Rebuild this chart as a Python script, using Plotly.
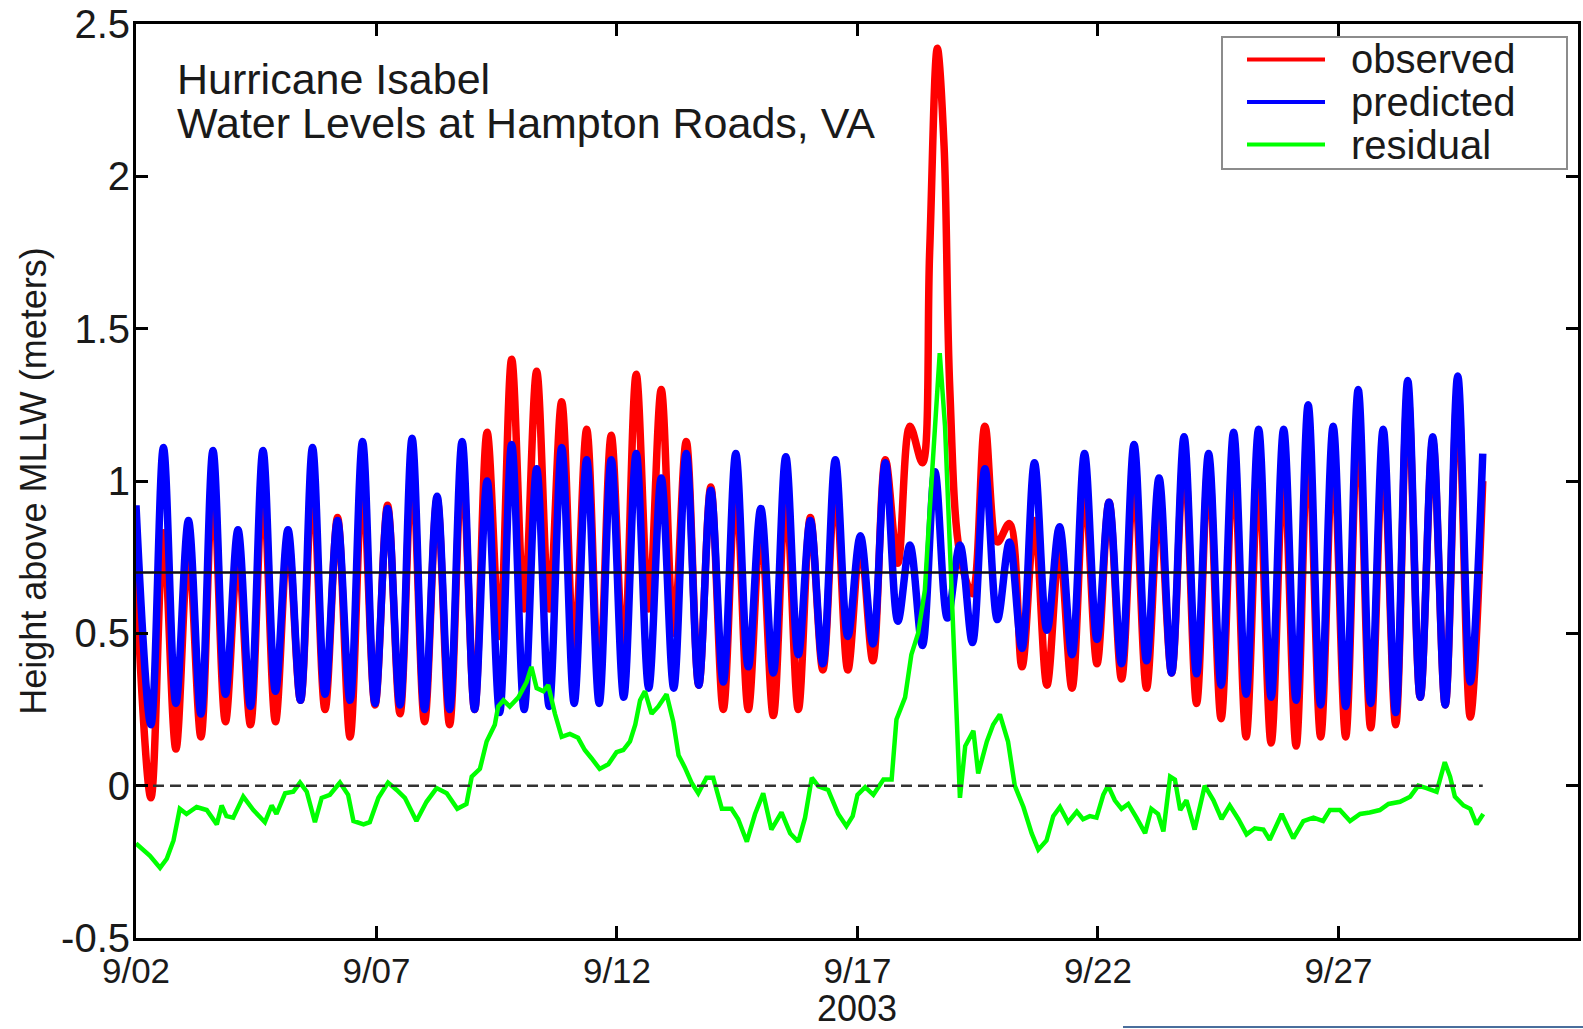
import plotly.graph_objects as go

# ---------------- data ----------------
# x axis: days after 2003-09-02 00:00
tick_days = [0, 5, 10, 15, 20, 25]
tick_labels = ["9/02", "9/07", "9/12", "9/17", "9/22", "9/27"]
y_ticks = [-0.5, 0, 0.5, 1, 1.5, 2, 2.5]
y_tick_labels = ["-0.5", "0", "0.5", "1", "1.5", "2", "2.5"]

# times of the predicted tidal turning points (start of record, then alternating low / high water)
tide_day = [0.00,
            0.31, 0.57, 0.83, 1.09, 1.35, 1.60, 1.86, 2.12, 2.38, 2.64,
            2.90, 3.16, 3.42, 3.67, 3.93, 4.19, 4.45, 4.71, 4.97, 5.23,
            5.49, 5.74, 6.00, 6.26, 6.52, 6.78, 7.04, 7.30, 7.56, 7.81,
            8.07, 8.33, 8.59, 8.85, 9.11, 9.37, 9.63, 9.88, 10.14, 10.40,
            10.66, 10.92, 11.18, 11.44, 11.70, 11.95, 12.21, 12.47, 12.73, 12.99,
            13.25, 13.51, 13.77, 14.02, 14.28, 14.54, 14.80, 15.06, 15.32, 15.58,
            15.84, 16.09, 16.35, 16.61, 16.87, 17.13, 17.39, 17.65, 17.91, 18.16,
            18.42, 18.68, 18.94, 19.20, 19.46, 19.72, 19.98, 20.23, 20.49, 20.75,
            21.01, 21.27, 21.53, 21.79, 22.05, 22.30, 22.56, 22.82, 23.08, 23.34,
            23.60, 23.86, 24.12, 24.37, 24.63, 24.89, 25.15, 25.41, 25.67, 25.93,
            26.19, 26.44, 26.70, 26.96, 27.22, 27.48, 27.74, 28.00]

predicted_m = [0.92,
               0.20, 1.11, 0.27, 0.87, 0.235, 1.10, 0.30, 0.84, 0.26, 1.10,
               0.31, 0.84, 0.28, 1.11, 0.30, 0.87, 0.28, 1.13, 0.27, 0.91,
               0.265, 1.14, 0.25, 0.95, 0.25, 1.13, 0.25, 1.00, 0.24, 1.12,
               0.25, 1.04, 0.26, 1.11, 0.27, 1.07, 0.27, 1.07, 0.29, 1.09,
               0.32, 1.01, 0.32, 1.09, 0.33, 0.97, 0.34, 1.09, 0.39, 0.91,
               0.37, 1.08, 0.43, 0.87, 0.40, 1.07, 0.49, 0.82, 0.465, 1.06,
               0.54, 0.79, 0.46, 1.03, 0.55, 0.79, 0.47, 1.04, 0.545, 0.80,
               0.45, 1.06, 0.51, 0.85, 0.43, 1.09, 0.48, 0.93, 0.40, 1.12,
               0.41, 1.01, 0.37, 1.145, 0.367, 1.09, 0.33, 1.16, 0.30, 1.17,
               0.29, 1.17, 0.28, 1.25, 0.265, 1.18, 0.26, 1.30, 0.27, 1.17,
               0.24, 1.33, 0.29, 1.145, 0.265, 1.345, 0.34, 1.09]

# observed turning points (extra points through the storm-surge peak)
obs_day = [0.00,
           0.31, 0.57, 0.83, 1.09, 1.35, 1.60, 1.86, 2.12, 2.38, 2.64,
           2.90, 3.16, 3.42, 3.67, 3.93, 4.19, 4.45, 4.71, 4.97, 5.23,
           5.49, 5.74, 6.00, 6.26, 6.52, 6.78, 7.04, 7.30, 7.56, 7.81,
           8.07, 8.33, 8.59, 8.85, 9.11, 9.37, 9.63, 9.88, 10.14, 10.40,
           10.66, 10.92, 11.18, 11.44, 11.70, 11.95, 12.21, 12.47, 12.73, 12.99,
           13.25, 13.51, 13.77, 14.02, 14.28, 14.54, 14.80, 15.06, 15.32, 15.58,
           15.84, 16.09, 16.35, 16.50, 16.66, 16.80, 16.92, 17.13, 17.39, 17.65, 17.91, 18.16,
           18.42, 18.68, 18.94, 19.20, 19.46, 19.72, 19.98, 20.23, 20.49, 20.75,
           21.01, 21.27, 21.53, 21.79, 22.05, 22.30, 22.56, 22.82, 23.08, 23.34,
           23.60, 23.86, 24.12, 24.37, 24.63, 24.89, 25.15, 25.41, 25.67, 25.93,
           26.19, 26.44, 26.70, 26.96, 27.22, 27.48, 27.74, 28.00]

observed_m = [0.68,
              -0.04, 0.83, 0.12, 0.78, 0.16, 1.00, 0.21, 0.76, 0.20, 0.99,
              0.21, 0.81, 0.28, 1.00, 0.25, 0.88, 0.16, 1.00, 0.265, 0.92,
              0.236, 1.05, 0.21, 0.94, 0.20, 1.06, 0.25, 1.16, 0.49, 1.40,
              0.58, 1.36, 0.58, 1.26, 0.43, 1.17, 0.33, 1.15, 0.41, 1.35,
              0.58, 1.30, 0.50, 1.13, 0.33, 0.98, 0.25, 0.99, 0.25, 0.86,
              0.23, 0.96, 0.25, 0.88, 0.38, 0.99, 0.38, 0.80, 0.41, 1.07,
              0.73, 1.18, 1.06, 1.75, 2.42, 2.10, 1.30, 0.76, 0.63, 1.18, 0.80, 0.86,
              0.39, 0.87, 0.33, 0.78, 0.32, 0.99, 0.40, 0.93, 0.35, 1.02,
              0.32, 0.92, 0.37, 1.10, 0.27, 1.06, 0.22, 1.07, 0.16, 1.03,
              0.14, 1.05, 0.13, 1.14, 0.16, 1.10, 0.16, 1.21, 0.19, 1.10,
              0.20, 1.29, 0.29, 1.13, 0.265, 1.30, 0.225, 1.00]

resid_day = [0.00, 0.29, 0.50, 0.64, 0.78, 0.91, 1.05, 1.26, 1.47, 1.68,
             1.78, 1.88, 2.02, 2.23, 2.44, 2.68, 2.82, 2.92, 3.10, 3.27,
             3.41, 3.55, 3.72, 3.86, 4.03, 4.24, 4.41, 4.52, 4.73, 4.86,
             5.04, 5.24, 5.42, 5.59, 5.83, 6.04, 6.25, 6.46, 6.68, 6.87,
             6.98, 7.15, 7.29, 7.46, 7.53, 7.64, 7.77, 7.95, 8.12, 8.22,
             8.33, 8.47, 8.57, 8.71, 8.85, 9.02, 9.19, 9.33, 9.47, 9.64,
             9.82, 9.99, 10.13, 10.27, 10.38, 10.48, 10.58, 10.72, 10.86, 11.03,
             11.17, 11.28, 11.41, 11.55, 11.69, 11.86, 12.00, 12.18, 12.38, 12.52,
             12.70, 12.87, 13.04, 13.21, 13.42, 13.60, 13.77, 13.91, 14.05, 14.19,
             14.39, 14.60, 14.77, 14.90, 15.00, 15.16, 15.33, 15.54, 15.71, 15.81,
             15.99, 16.12, 16.26, 16.40, 16.50, 16.61, 16.71, 16.82, 16.92, 17.03,
             17.13, 17.24, 17.41, 17.51, 17.69, 17.82, 17.96, 18.13, 18.27, 18.45,
             18.62, 18.76, 18.93, 19.07, 19.21, 19.38, 19.56, 19.69, 19.83, 19.97,
             20.11, 20.21, 20.35, 20.49, 20.63, 20.80, 20.98, 21.11, 21.25, 21.36,
             21.50, 21.60, 21.71, 21.84, 22.01, 22.22, 22.40, 22.57, 22.74, 22.92,
             23.09, 23.26, 23.44, 23.57, 23.82, 24.06, 24.27, 24.48, 24.68, 24.82,
             25.03, 25.24, 25.45, 25.65, 25.86, 26.04, 26.28, 26.49, 26.66, 26.83,
             27.04, 27.21, 27.32, 27.42, 27.60, 27.74, 27.87, 28.01]

residual_m = [-0.19, -0.23, -0.27, -0.24, -0.18, -0.076, -0.093, -0.07, -0.08, -0.127,
              -0.065, -0.10, -0.105, -0.036, -0.08, -0.12, -0.065, -0.093, -0.025, -0.02,
              0.01, -0.02, -0.12, -0.04, -0.03, 0.01, -0.03, -0.116, -0.127, -0.12,
              -0.04, 0.01, -0.014, -0.04, -0.116, -0.053, -0.008, -0.025, -0.076, -0.06,
              0.03, 0.055, 0.145, 0.20, 0.26, 0.28, 0.26, 0.29, 0.34, 0.39,
              0.32, 0.31, 0.33, 0.236, 0.16, 0.17, 0.157, 0.117, 0.09, 0.055,
              0.07, 0.11, 0.117, 0.145, 0.20, 0.28, 0.31, 0.236, 0.26, 0.30,
              0.21, 0.10, 0.06, 0.01, -0.025, 0.026, 0.026, -0.076, -0.076, -0.11,
              -0.184, -0.093, -0.025, -0.144, -0.088, -0.156, -0.184, -0.105, 0.026, -0.002,
              -0.014, -0.093, -0.133, -0.10, -0.03, -0.005, -0.03, 0.02, 0.02, 0.217,
              0.29, 0.43, 0.50, 0.64, 0.90, 1.20, 1.42, 1.18, 0.78, 0.36,
              -0.04, 0.13, 0.18, 0.04, 0.145, 0.20, 0.234, 0.145, 0.0, -0.07,
              -0.156, -0.21, -0.18, -0.10, -0.07, -0.12, -0.085, -0.11, -0.10, -0.105,
              -0.03, 0.0, -0.048, -0.076, -0.06, -0.105, -0.156, -0.076, -0.093, -0.15,
              0.03, 0.02, -0.08, -0.048, -0.144, 0.0, -0.048, -0.11, -0.065, -0.11,
              -0.16, -0.14, -0.144, -0.178, -0.093, -0.173, -0.116, -0.105, -0.116, -0.08,
              -0.08, -0.116, -0.093, -0.088, -0.08, -0.06, -0.053, -0.036, 0.0, -0.008,
              -0.02, 0.077, 0.03, -0.036, -0.065, -0.076, -0.127, -0.093]

ref_day = [0.0, 28.0]
mean_level_m = 0.7
zero_level_m = 0.0

series_names = ["observed", "predicted", "residual"]
series_colors = ["#ff0000", "#0000ff", "#00ff00"]

assert len(tide_day) == len(predicted_m)
assert len(obs_day) == len(observed_m)
assert len(resid_day) == len(residual_m)

FONT = "Liberation Sans, Arial, Helvetica, sans-serif"
TXT = "#1a1a1a"

# plot-area geometry (pixels) used to place the decorations
L, R, T, B = 136, 5, 24, 91
W, H = 1583, 1029
PW, PH = W - L - R, H - T - B


def px(xp):
    return (xp - L) / PW


def py(yp):
    return (H - B - yp) / PH


fig = go.Figure()

fig.add_trace(go.Scatter(x=obs_day, y=observed_m, mode="lines", name=series_names[0],
                         line=dict(color=series_colors[0], width=7.5, shape="spline", smoothing=1.0),
                         showlegend=False))
fig.add_trace(go.Scatter(x=tide_day, y=predicted_m, mode="lines", name=series_names[1],
                         line=dict(color=series_colors[1], width=7.5, shape="spline", smoothing=1.0),
                         showlegend=False))
fig.add_trace(go.Scatter(x=resid_day, y=residual_m, mode="lines", name=series_names[2],
                         line=dict(color=series_colors[2], width=4.5),
                         showlegend=False))
fig.add_trace(go.Scatter(x=ref_day, y=[mean_level_m, mean_level_m], mode="lines",
                         line=dict(color="#111111", width=2.5), showlegend=False,
                         hoverinfo="skip"))
fig.add_trace(go.Scatter(x=ref_day, y=[zero_level_m, zero_level_m], mode="lines",
                         line=dict(color="#333333", width=2.5, dash="11px,6px"),
                         showlegend=False, hoverinfo="skip"))

shapes = []
annotations = []

# legend box (drawn by hand to reproduce the compact MATLAB layout)
shapes.append(dict(type="rect", xref="paper", yref="paper",
                   x0=px(1222), x1=px(1567), y0=py(169), y1=py(37),
                   line=dict(color="#8c8c8c", width=2), fillcolor="white", layer="above"))
row_y = [59.5, 102, 144.5]
for name, color, ry in zip(series_names, series_colors, row_y):
    shapes.append(dict(type="line", xref="paper", yref="paper",
                       x0=px(1247), x1=px(1325), y0=py(ry), y1=py(ry),
                       line=dict(color=color, width=4), layer="above"))
    annotations.append(dict(xref="paper", yref="paper", x=px(1349), y=py(ry),
                            xanchor="left", yanchor="middle", showarrow=False,
                            text=name, font=dict(family=FONT, size=40, color=TXT)))

# in-plot title text
annotations.append(dict(xref="paper", yref="paper", x=px(175), y=py(79),
                        xanchor="left", yanchor="middle", showarrow=False,
                        text="Hurricane Isabel", font=dict(family=FONT, size=43, color=TXT)))
annotations.append(dict(xref="paper", yref="paper", x=px(175), y=py(123),
                        xanchor="left", yanchor="middle", showarrow=False,
                        text="Water Levels at Hampton Roads, VA",
                        font=dict(family=FONT, size=43, color=TXT)))

# thin blue rule at the bottom edge of the original image
shapes.append(dict(type="line", xref="paper", yref="paper",
                   x0=px(1123), x1=px(1583), y0=py(1027), y1=py(1027),
                   line=dict(color="#4a6e9c", width=2)))

fig.update_layout(
    width=W, height=H,
    margin=dict(l=L, r=R, t=T, b=B, autoexpand=False),
    paper_bgcolor="white", plot_bgcolor="white",
    font=dict(family=FONT, color=TXT),
    shapes=shapes, annotations=annotations,
    showlegend=False,
)

fig.update_xaxes(range=[0, 29.98], tickvals=tick_days, ticktext=tick_labels,
                 ticks="inside", ticklen=12, tickwidth=3, tickcolor="black",
                 showline=True, linecolor="black", linewidth=3, mirror="allticks",
                 showgrid=False, zeroline=False, ticklabelstandoff=0,
                 tickfont=dict(family=FONT, size=35, color=TXT),
                 title=dict(text="2003", font=dict(family=FONT, size=36, color=TXT), standoff=16))
fig.update_yaxes(range=[-0.5, 2.5], tickvals=y_ticks, ticktext=y_tick_labels,
                 ticks="inside", ticklen=12, tickwidth=3, tickcolor="black",
                 showline=True, linecolor="black", linewidth=3, mirror="allticks",
                 showgrid=False, zeroline=False, ticklabelstandoff=-5,
                 tickfont=dict(family=FONT, size=40, color=TXT),
                 title=dict(text="Height above MLLW (meters)",
                            font=dict(family=FONT, size=36, color=TXT), standoff=4))

fig.write_html("out.html")
